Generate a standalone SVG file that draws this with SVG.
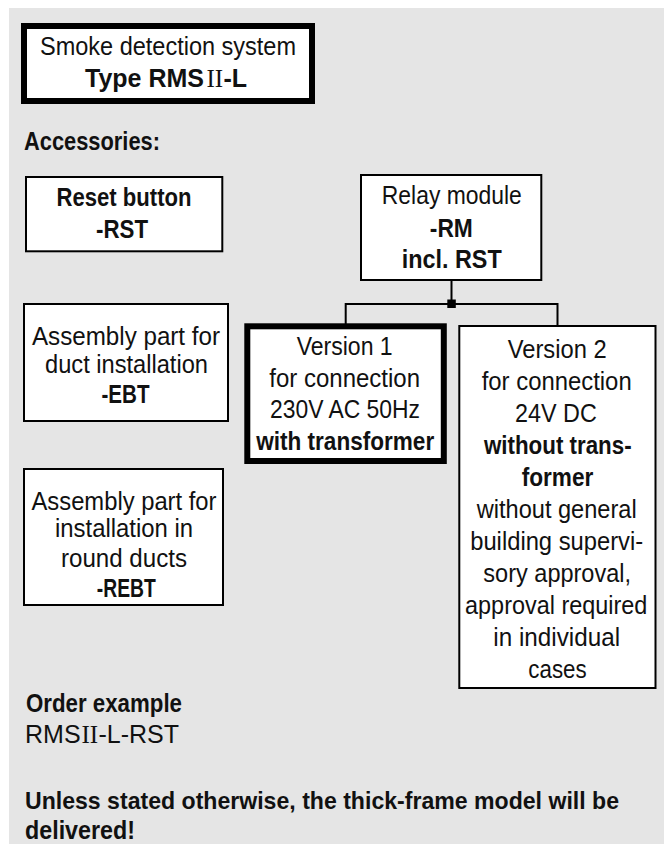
<svg xmlns="http://www.w3.org/2000/svg" width="664" height="844" viewBox="0 0 664 844">
<style>
.bg{fill:#e5e5e5}
.box{fill:#fff;stroke:#000;stroke-width:2}
.thick{fill:#fff;stroke:#000;stroke-width:6}
.t{font-family:"Liberation Sans",Arial,sans-serif;font-size:25px;fill:#111;text-anchor:middle}
.l{text-anchor:start}
.b{font-weight:bold}
.sf{font-family:"Liberation Serif","Times New Roman",serif;font-weight:normal}
.wire{fill:none;stroke:#000;stroke-width:2}
</style>
<rect class="bg" x="9" y="8" width="655" height="836"/>

<g id="title">
<rect class="thick" x="24" y="26" width="288" height="75"/>
<text class="t" x="168" y="55" textLength="256" lengthAdjust="spacingAndGlyphs">Smoke detection system</text>
<text class="t l b" x="85" y="87">Type RMS</text>
<text class="t l sf" x="206.5" y="87">II</text>
<text class="t l b" x="223.5" y="87">-L</text>
</g>

<g id="accessories">
<text class="t l b" x="24" y="150" textLength="136" lengthAdjust="spacingAndGlyphs">Accessories:</text>
</g>

<g id="reset">
<rect class="box" x="26" y="177" width="196.3" height="74.3"/>
<text class="t b" x="124" y="205.7" textLength="135" lengthAdjust="spacingAndGlyphs">Reset button</text>
<text class="t b" x="122" y="237.7" textLength="52" lengthAdjust="spacingAndGlyphs">-RST</text>
</g>

<g id="ebt">
<rect class="box" x="24" y="304" width="204" height="117"/>
<text class="t" x="126" y="345" textLength="188" lengthAdjust="spacingAndGlyphs">Assembly part for</text>
<text class="t" x="126.5" y="373.3" textLength="163" lengthAdjust="spacingAndGlyphs">duct installation</text>
<text class="t b" x="125.5" y="402.7" textLength="48" lengthAdjust="spacingAndGlyphs">-EBT</text>
</g>

<g id="rebt">
<rect class="box" x="24" y="469" width="199" height="136"/>
<text class="t" x="124" y="510" textLength="185" lengthAdjust="spacingAndGlyphs">Assembly part for</text>
<text class="t" x="124" y="536.7" textLength="138" lengthAdjust="spacingAndGlyphs">installation in</text>
<text class="t" x="124" y="566.7" textLength="126" lengthAdjust="spacingAndGlyphs">round ducts</text>
<text class="t b" x="126.3" y="596.7" textLength="59" lengthAdjust="spacingAndGlyphs">-REBT</text>
</g>

<g id="relay">
<rect class="box" x="361" y="175" width="180.3" height="105"/>
<text class="t" x="451.8" y="204.3" textLength="140" lengthAdjust="spacingAndGlyphs">Relay module</text>
<text class="t b" x="451.3" y="236.7" textLength="43" lengthAdjust="spacingAndGlyphs">-RM</text>
<text class="t b" x="451.7" y="268" textLength="100" lengthAdjust="spacingAndGlyphs">incl. RST</text>
</g>

<g id="connectors">
<line class="wire" x1="451.5" y1="280" x2="451.5" y2="304"/>
<polyline class="wire" points="345.7,324 345.7,304 557.5,304 557.5,326"/>
<rect x="447.3" y="299.5" width="8.5" height="8.5" fill="#000"/>
</g>

<g id="version1">
<rect class="thick" x="247.3" y="326.3" width="196.5" height="134.7"/>
<text class="t" x="344.7" y="355" textLength="96" lengthAdjust="spacingAndGlyphs">Version 1</text>
<text class="t" x="344.7" y="386.7" textLength="150.7" lengthAdjust="spacingAndGlyphs">for connection</text>
<text class="t" x="345" y="418.3" textLength="150" lengthAdjust="spacingAndGlyphs">230V AC 50Hz</text>
<text class="t b" x="345.2" y="450" textLength="178" lengthAdjust="spacingAndGlyphs">with transformer</text>
</g>

<g id="version2">
<rect class="box" x="459.3" y="326" width="196.2" height="362"/>
<text class="t" x="557.2" y="358.3" textLength="99" lengthAdjust="spacingAndGlyphs">Version 2</text>
<text class="t" x="556.7" y="390" textLength="150" lengthAdjust="spacingAndGlyphs">for connection</text>
<text class="t" x="555.9" y="422" textLength="81.7" lengthAdjust="spacingAndGlyphs">24V DC</text>
<text class="t b" x="557.8" y="454" textLength="147.7" lengthAdjust="spacingAndGlyphs">without trans-</text>
<text class="t b" x="557.5" y="486" textLength="71.7" lengthAdjust="spacingAndGlyphs">former</text>
<text class="t" x="556.7" y="518" textLength="160" lengthAdjust="spacingAndGlyphs">without general</text>
<text class="t" x="556.7" y="550" textLength="173" lengthAdjust="spacingAndGlyphs">building supervi-</text>
<text class="t" x="557.2" y="582" textLength="147.7" lengthAdjust="spacingAndGlyphs">sory approval,</text>
<text class="t" x="556.2" y="614" textLength="182.3" lengthAdjust="spacingAndGlyphs">approval required</text>
<text class="t" x="556.7" y="646" textLength="126.7" lengthAdjust="spacingAndGlyphs">in individual</text>
<text class="t" x="557.5" y="678" textLength="58.3" lengthAdjust="spacingAndGlyphs">cases</text>
</g>

<g id="notes">
<text class="t l b" x="26" y="711.7" textLength="156" lengthAdjust="spacingAndGlyphs">Order example</text>
<text class="t l" x="25" y="742.7">RMS</text>
<text class="t l sf" x="81.5" y="742.7">II</text>
<text class="t l" x="98.5" y="742.7">-L-RST</text>
<text class="t l b" x="25" y="809" style="font-size:24px" textLength="594" lengthAdjust="spacingAndGlyphs">Unless stated otherwise, the thick-frame model will be</text>
<text class="t l b" x="25" y="839" textLength="110" lengthAdjust="spacingAndGlyphs">delivered!</text>
</g>
</svg>
